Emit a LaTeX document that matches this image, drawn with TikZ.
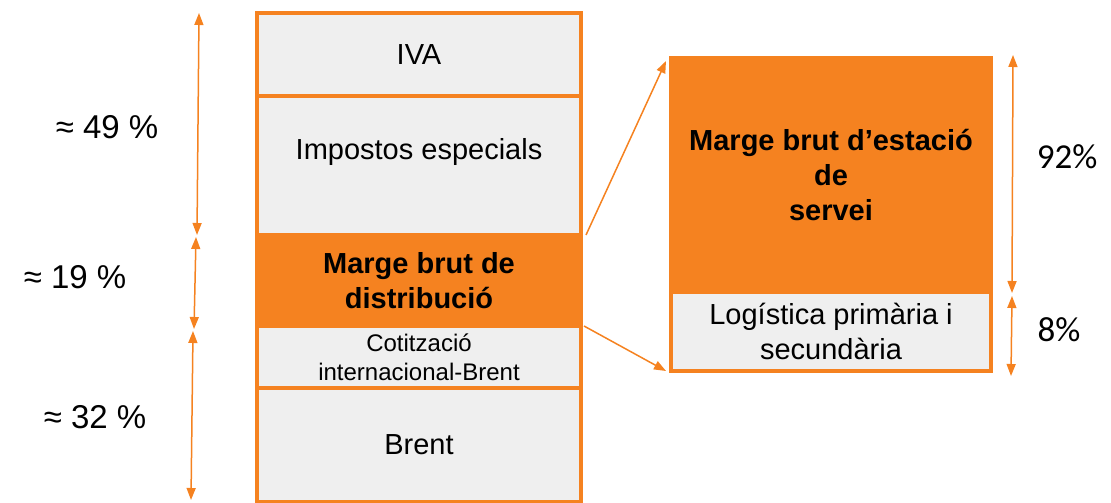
\documentclass[tikz,border=0pt]{standalone}
\usepackage{fontspec}
\setmainfont{Liberation Sans}
\newfontfamily\pctfont{Carlito}
\usetikzlibrary{
    positioning,
    arrows.meta
}
\definecolor{barorange}{HTML}{F58220}
\definecolor{bargray}{HTML}{EFEFEF}
\tikzset{%
    cost block/.style={%
        rectangle,
        draw=barorange,
        line width=4pt,
        fill=bargray,
        inner sep = 0pt,
        outer sep = 0pt,
        minimum width=324pt,
        align=center,
        font=\fontsize{29}{35}\selectfont
    },
    margin block/.style={%
        cost block,
        fill=barorange,
        font=\fontsize{29}{35}\selectfont\bfseries
    },
    small block/.style={%
        cost block,
        font=\fontsize{24}{29}\selectfont
    },
    block text/.style={%
        inner sep = 0pt,
        font=\fontsize{29}{35}\selectfont
    },
    share/.style={%
        font=\fontsize{33}{38}\selectfont
    },
    pct/.style={%
        font=\pctfont\fontsize{35}{40}\selectfont
    },
    arrow/.style={%
        >={Triangle[length=12pt,width=9pt]},
        draw=barorange,
        line width=1.5pt
    },
}
\begin{document}
\begin{tikzpicture}[x=1pt, y=-1pt]
    \useasboundingbox (0,0) rectangle (1111,503);

    % price stack
    \node[cost block, minimum height=83pt] (iva) at (419,54.5) {IVA};
    \node[cost block, minimum height=139pt, below=0pt of iva] (impostos) {};
    \node[block text, below=42pt of impostos.north] (impostos text) {Impostos especials};
    \node[margin block, minimum height=91pt, below=0pt of impostos] (distribucio) {Marge brut de\\distribució};
    \node[small block, minimum height=62pt, below=0pt of distribucio] (cotitzacio) {Cotització\\internacional-Brent};
    \node[cost block, minimum height=114pt, below=0pt of cotitzacio] (brent) {Brent};

    % breakdown of the distribution margin
    \node[margin block, minimum width=320pt, minimum height=234pt] (estacio) at (831,175) {Marge brut d’estació\\de\\servei};
    \node[cost block, minimum width=320pt, minimum height=79pt, below=0pt of estacio] (logistica) {Logística primària i\\secundària};

    \draw[arrow, ->] ([xshift=5pt]distribucio.north east) to ([shift={(-5pt,-3pt)}]estacio.north west);
    \draw[arrow, ->] ([xshift=3pt]distribucio.south east) to ([xshift=-5pt]logistica.south west);

    % left shares
    \coordinate (s1) at (199,13);
    \coordinate (s2) at (197,235);
    \coordinate (s3) at (196,237);
    \coordinate (s4) at (194,329);
    \coordinate (s5) at (193,331);
    \coordinate (s6) at (191,500);
    \draw[arrow, <->] (s1) to (s2);
    \draw[arrow, <->] (s3) to (s4);
    \draw[arrow, <->] (s5) to (s6);

    \node[share] (share impostos) at (107,127) {≈ 49 \%};
    \node[share] (share marge) at (75,277) {≈ 19 \%};
    \node[share] (share brent) at (95,417) {≈ 32 \%};

    % right shares
    \coordinate (r1) at (1013,55);
    \coordinate (r2) at (1012,293);
    \coordinate (r3) at (1012,296);
    \coordinate (r4) at (1011,376);
    \draw[arrow, <->] (r1) to (r2);
    \draw[arrow, <->] (r3) to (r4);

    \node[pct] (share estacio) at (1067,157) {92\%};
    \node[pct] (share logistica) at (1059,330) {8\%};
\end{tikzpicture}
\end{document}
